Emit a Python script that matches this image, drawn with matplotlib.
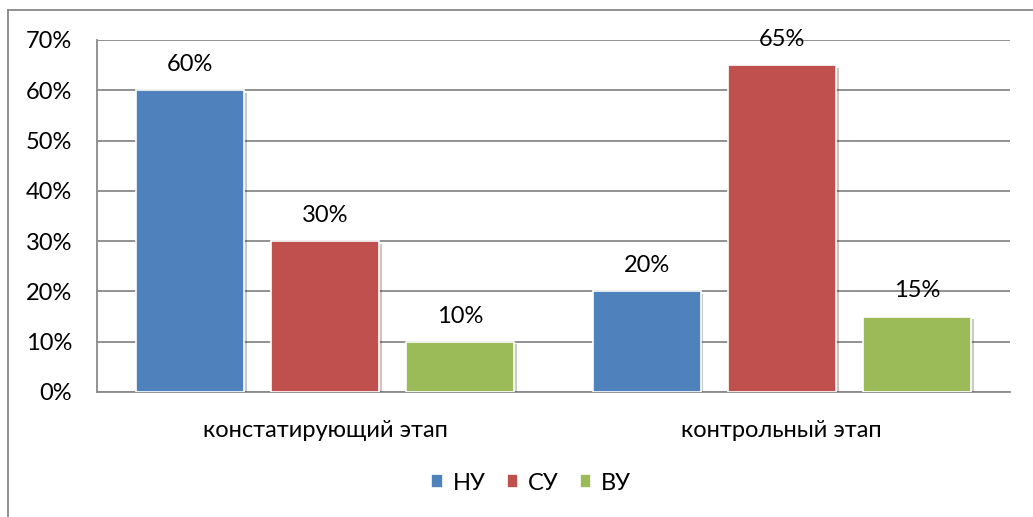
import numpy as np
import matplotlib
matplotlib.use("Agg")
import matplotlib.pyplot as plt
from matplotlib.lines import Line2D
import matplotlib.patheffects as pe

plt.rcParams['font.family'] = ['Lato', 'DejaVu Sans']

categories = ["констатирующий этап", "контрольный этап"]
series_names = ["НУ", "СУ", "ВУ"]
nu = [60, 20]
su = [30, 65]
vu = [10, 15]
colors = ["#4F81BD", "#C0504D", "#9BBB59"]

fs = 17

fig = plt.figure(figsize=(10.33, 5.17), dpi=100)
ax = fig.add_axes([97 / 1033, 1 - 392 / 517, (1010 - 97) / 1033, (392 - 40) / 517])

x = np.arange(len(categories))
width = 0.237
offset = 0.296

all_bars = []
for i, (vals, name) in enumerate(zip([nu, su, vu], series_names)):
    bars = ax.bar(x + (i - 1) * offset, vals, width, color=colors[i], label=name,
                  edgecolor="white", linewidth=1.2, zorder=3)
    all_bars.extend(bars)
    for xi, v in zip(x + (i - 1) * offset, vals):
        ax.text(xi, v + 3.0, f"{v}%", ha="center", va="bottom", fontsize=fs, zorder=4)

ax.set_xlim(-0.5, 1.5)
ax.set_ylim(0, 70)
ax.set_yticks(range(0, 71, 10))
ax.set_yticklabels([f"{t}%" for t in range(0, 71, 10)], fontsize=fs)
ax.set_xticks(x)
ax.set_xticklabels(categories, fontsize=fs)
ax.tick_params(axis="y", length=0, pad=18)
ax.tick_params(axis="x", length=0, pad=20)
ax.grid(axis="y", color="#898989", linewidth=1.3, zorder=0)
for s in ["top", "right"]:
    ax.spines[s].set_visible(False)
for s in ["left", "bottom"]:
    ax.spines[s].set_color("#898989")
    ax.spines[s].set_linewidth(1.3)

fig.legend(loc="center", bbox_to_anchor=(531 / 1033, 1 - 483 / 517), ncol=3,
           frameon=False, fontsize=fs, handlelength=0.5, handleheight=0.5,
           columnspacing=0.9, handletextpad=0.4)

# light shadow on bars, added after the legend so the legend keys stay flat
shadow = [pe.SimplePatchShadow(offset=(2, -2), alpha=0.25), pe.Normal()]
for b in all_bars:
    b.set_path_effects(shadow)

# outer chart border (partly cut off in the reference)
fig.add_artist(Line2D([8 / 1033, 8 / 1033], [0, 1 - 10 / 517], color="#888888", linewidth=1.3))
fig.add_artist(Line2D([8 / 1033, 1], [1 - 10 / 517, 1 - 10 / 517], color="#888888", linewidth=1.3))

fig.savefig("out.png", dpi=100)
